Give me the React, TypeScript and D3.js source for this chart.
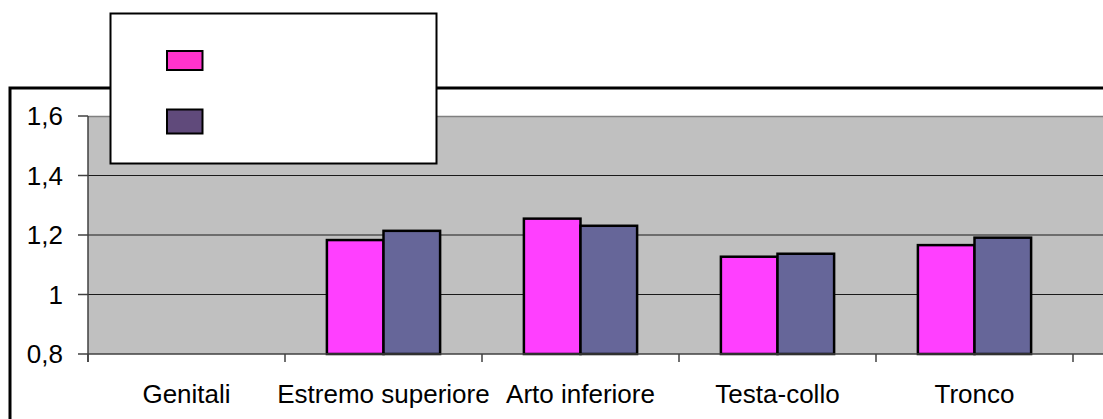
import React from "react";
import * as d3 from "d3";

const categories = ["Genitali", "Estremo superiore", "Arto inferiore", "Testa-collo", "Tronco"];
const seriesNames = ["", ""];
const seriesA: (number | null)[] = [null, 1.183, 1.255, 1.127, 1.166];
const seriesB: (number | null)[] = [null, 1.214, 1.231, 1.137, 1.191];
const yTicks = [0.8, 1, 1.2, 1.4, 1.6];
const barColors = ["#ff3fff", "#666699"];
const legendColors = ["#ff33cc", "#604a7b"];

const W = 1103;
const H = 419;
const plotLeft = 88;
const plotRight = 1073;
const plotTop = 116;
const plotBottom = 354;

export default function App() {
  const x = d3.scaleBand<string>().domain(categories).range([plotLeft, plotRight]).paddingInner(0).paddingOuter(0);
  const xs = d3.scaleBand<string>().domain(["a", "b"]).range([0, x.bandwidth()]).paddingInner(0).paddingOuter(0.74);
  const y = d3.scaleLinear().domain([0.8, 1.6]).range([plotBottom, plotTop]);
  const fmt = (v: number) => String(v).replace(".", ",");
  const data = [seriesA, seriesB];
  const keys = ["a", "b"];
  const boundaries = categories.map((c) => x(c) as number).concat([plotRight]);
  const fs = 26;

  return (
    <svg width={W} height={H} style={{ position: "absolute", left: 0, top: 0, background: "#fff" }}
      fontFamily="'Liberation Sans', Arial, sans-serif">
      {/* outer chart frame */}
      <rect x={10} y={88} width={W + 20} height={H} fill="#fff" stroke="#000" strokeWidth={3} />
      {/* plot area */}
      <rect x={plotLeft} y={plotTop} width={W - plotLeft + 10} height={plotBottom - plotTop} fill="#c0c0c0" />
      <line x1={plotLeft} x2={W + 10} y1={plotTop + 0.5} y2={plotTop + 0.5} stroke="#808080" strokeWidth={1.5} />
      {yTicks.filter((t) => t > 0.8 && t < 1.6).map((t) => (
        <line key={t} x1={plotLeft} x2={W + 10} y1={y(t)} y2={y(t)} stroke="#1a1a1a" strokeWidth={1.2} />
      ))}
      {/* bars */}
      {data.map((s, si) =>
        s.map((v, i) =>
          v == null ? null : (
            <rect key={si + "-" + i}
              x={(x(categories[i]) as number) + (xs(keys[si]) as number)}
              y={y(v)}
              width={xs.bandwidth()}
              height={plotBottom - y(v)}
              fill={barColors[si]} stroke="#000" strokeWidth={2.5} />
          )
        )
      )}
      {/* axes */}
      <line x1={plotLeft} x2={W + 10} y1={plotBottom} y2={plotBottom} stroke="#404040" strokeWidth={1.5} />
      <line x1={plotLeft} x2={plotLeft} y1={plotTop} y2={plotBottom + 8} stroke="#404040" strokeWidth={1.5} />
      {yTicks.map((t) => (
        <g key={t}>
          <line x1={plotLeft - 10} x2={plotLeft} y1={y(t)} y2={y(t)} stroke="#404040" strokeWidth={1.5} />
          <text x={63} y={y(t)} dy="0.35em" textAnchor="end" fontSize={fs} fill="#000">{fmt(t)}</text>
        </g>
      ))}
      {boundaries.map((b, i) => (
        <line key={i} x1={b} x2={b} y1={plotBottom} y2={plotBottom + 8} stroke="#404040" strokeWidth={1.5} />
      ))}
      {categories.map((c) => (
        <text key={c} x={(x(c) as number) + x.bandwidth() / 2} y={403} textAnchor="middle" fontSize={fs} fill="#000">{c}</text>
      ))}
      {/* legend */}
      <rect x={110.5} y={13.5} width={326} height={150} fill="#fff" stroke="#000" strokeWidth={2} />
      <rect x={167} y={51} width={35.5} height={19} fill={legendColors[0]} stroke="#000" strokeWidth={2} />
      <rect x={167} y={109.5} width={35.5} height={24} fill={legendColors[1]} stroke="#000" strokeWidth={2} />
      {seriesNames.map((n, i) => (
        <text key={i} x={215} y={i === 0 ? 60 : 121} dy="0.35em" fontSize={fs}>{n}</text>
      ))}
    </svg>
  );
}
